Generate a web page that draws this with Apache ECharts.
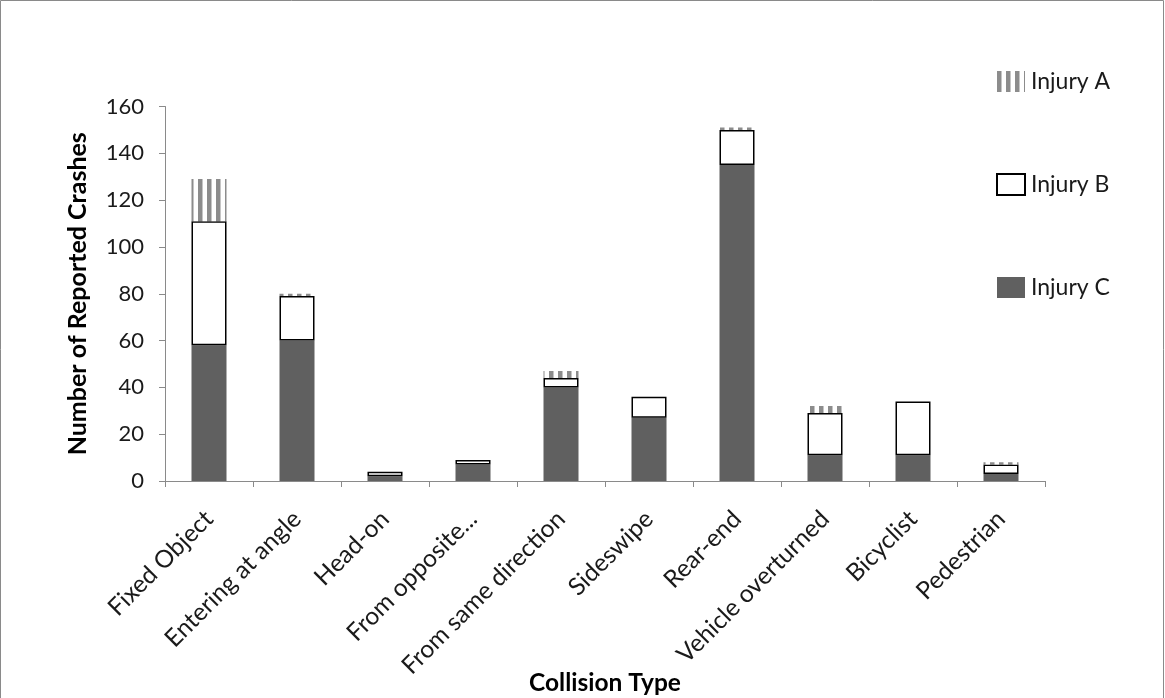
<!DOCTYPE html>
<html>
<head>
<meta charset="utf-8">
<script src="https://cdn.jsdelivr.net/npm/echarts@6/dist/echarts.min.js"></script>
<style>
html,body{margin:0;padding:0;background:#fff;}
#c{width:1165px;height:698px;}
</style>
</head>
<body>
<div id="c"></div>
<script>
const categories = ["Fixed Object","Entering at angle","Head-on","From opposite...","From same direction","Sideswipe","Rear-end","Vehicle overturned","Bicyclist","Pedestrian"];
const injuryC = [58, 60, 2, 7, 40, 27, 135, 11, 11, 3];
const injuryB = [53, 19, 2, 2, 4, 9, 15, 18, 23, 4];
const injuryA = [18, 1, 0, 0, 3, 0, 1, 3, 0, 1];
const yTicks = [0, 20, 40, 60, 80, 100, 120, 140, 160];

const FONT = 'Lato, "Open Sans", sans-serif';

function stripeCanvas() {
  const cv = document.createElement('canvas');
  cv.width = 9; cv.height = 9;
  const ctx = cv.getContext('2d');
  ctx.fillStyle = '#ffffff';
  ctx.fillRect(0, 0, 9, 9);
  ctx.fillStyle = '#8c8c8c';
  ctx.fillRect(0, 0, 4.5, 9);
  return cv;
}
const stripe = { image: stripeCanvas(), repeat: 'repeat' };

const chart = echarts.init(document.getElementById('c'), null, { renderer: 'canvas' });
chart.setOption({
  animation: false,
  backgroundColor: '#ffffff',
  graphic: [{
    type: 'rect',
    shape: { x: 0.5, y: 0.5, width: 1163, height: 720 },
    style: { fill: 'none', stroke: '#8a8a8a', lineWidth: 1 },
    silent: true
  }],
  grid: { left: 165, right: 120, top: 106.5, bottom: 217, containLabel: false, outerBoundsMode: 'none' },
  legend: {
    orient: 'vertical',
    left: 996,
    top: 70,
    padding: 0,
    icon: 'rect',
    itemWidth: 28,
    itemHeight: 21,
    itemGap: 80,
    data: ['Injury A', 'Injury B', 'Injury C'],
    textStyle: { fontFamily: FONT, fontSize: 23, lineHeight: 21, height: 21, color: '#1a1a1a', padding: [0, 0, 0, 1] },
    selectedMode: false
  },
  xAxis: {
    type: 'category',
    data: categories,
    name: 'Collision Type',
    nameLocation: 'middle',
    nameGap: 190,
    nameMoveOverlap: false,
    nameTextStyle: { fontFamily: FONT, fontSize: 24.5, fontWeight: 'bold', color: '#000' },
    axisLine: { lineStyle: { color: '#8a8a8a', width: 1 } },
    axisTick: { show: true, alignWithLabel: false, length: 6, lineStyle: { color: '#8a8a8a' } },
    axisLabel: { rotate: 45, fontFamily: FONT, fontSize: 24.5, color: '#1a1a1a', margin: 34, interval: 0, verticalAlign: 'middle' }
  },
  yAxis: {
    type: 'value',
    min: 0,
    max: 160,
    interval: 20,
    name: 'Number of Reported Crashes',
    nameLocation: 'middle',
    nameGap: 75,
    nameMoveOverlap: false,
    nameRotate: 90,
    nameTextStyle: { fontFamily: FONT, fontSize: 25, fontWeight: 'bold', color: '#000' },
    axisLine: { show: true, lineStyle: { color: '#8a8a8a', width: 1 } },
    axisTick: { show: true, length: 6, lineStyle: { color: '#8a8a8a' } },
    splitLine: { show: false },
    axisLabel: {
      fontFamily: FONT, fontSize: 22, color: '#1a1a1a', margin: 21,
      formatter: function (v) { return yTicks.indexOf(v) >= 0 ? String(v) : ''; }
    }
  },
  series: [
    {
      name: 'Injury C', type: 'bar', stack: 'tot', barWidth: 35, data: injuryC,
      itemStyle: { color: '#606060' }
    },
    {
      name: 'Injury B', type: 'bar', stack: 'tot', barWidth: 35, data: injuryB,
      itemStyle: { color: '#ffffff', borderColor: '#000000', borderWidth: 1.5 }
    },
    {
      name: 'Injury A', type: 'bar', stack: 'tot', barWidth: 35, data: injuryA,
      itemStyle: { color: stripe }
    }
  ]
});
</script>
</body>
</html>
